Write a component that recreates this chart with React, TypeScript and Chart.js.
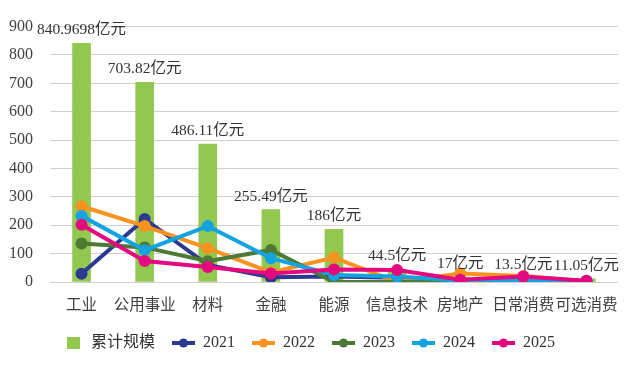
import React, { useEffect, useRef } from "react";
import { Chart, registerables } from "chart.js";
Chart.register(...registerables);

const categories = ["工业", "公用事业", "材料", "金融", "能源", "信息技术", "房地产", "日常消费", "可选消费"];
const cumulative = [840.9698, 703.82, 486.11, 255.49, 186, 44.5, 17, 13.5, 11.05];
const cumulativeLabels = ["840.9698亿元", "703.82亿元", "486.11亿元", "255.49亿元", "186亿元", "44.5亿元", "17亿元", "13.5亿元", "11.05亿元"];
const y2021 = [29, 222, 60, 17, 19, 15, 5, 4, 3];
const y2022 = [267, 197, 119, 34, 86, 0, 30, 21, 2];
const y2023 = [136, 122, 73, 113, 0, 0, 2, 1, 3];
const y2024 = [233, 112, 197, 84, 25, 19, 5, 5, 4];
const y2025 = [202, 74, 53, 30, 44, 42, 8, 19, 4];
const yTickValues = [0, 100, 200, 300, 400, 500, 600, 700, 800, 900];

const seriesNames = ["累计规模", "2021", "2022", "2023", "2024", "2025"];
const colors = {
  bar: "#92C84F",
  y2021: "#2B3990",
  y2022: "#F7931E",
  y2023: "#4C7A34",
  y2024: "#12A3E0",
  y2025: "#E5097F",
};

const FONT = "'Liberation Serif', 'Noto Sans CJK SC', serif";
const TEXT = "#404040";

const barLabelPlugin = {
  id: "barLabels",
  afterDatasetsDraw(chart: any) {
    const meta = chart.getDatasetMeta(0);
    const ctx = chart.ctx;
    ctx.save();
    ctx.font = `15.5px ${FONT}`;
    ctx.fillStyle = "#333333";
    ctx.textAlign = "center";
    ctx.textBaseline = "middle";
    meta.data.forEach((el: any, i: number) => {
      ctx.fillText(cumulativeLabels[i], el.x, el.y - 13);
    });
    ctx.restore();
  },
};

const legendPlugin = {
  id: "customLegend",
  afterDraw(chart: any) {
    const ctx = chart.ctx;
    const y = 343;
    let x = 67;
    ctx.save();
    ctx.font = `16px ${FONT}`;
    ctx.textBaseline = "middle";
    ctx.textAlign = "left";
    chart.data.datasets.forEach((ds: any) => {
      const col = ds.borderColor || ds.backgroundColor;
      if (ds.type === "bar") {
        ctx.fillStyle = ds.backgroundColor;
        ctx.fillRect(x, y - 6, 13, 12);
        x += 13 + 11;
      } else {
        ctx.strokeStyle = col;
        ctx.lineWidth = 4;
        ctx.beginPath();
        ctx.moveTo(x, y);
        ctx.lineTo(x + 23, y);
        ctx.stroke();
        ctx.fillStyle = col;
        ctx.beginPath();
        ctx.arc(x + 11.5, y, 4.5, 0, Math.PI * 2);
        ctx.fill();
        x += 23 + 8;
      }
      ctx.fillStyle = "#333333";
      const label = ds.label;
      ctx.fillText(label, x, y);
      x += ctx.measureText(label).width + 17;
    });
    ctx.restore();
  },
};

function lineDs(label: string, data: number[], color: string, order: number) {
  return {
    type: "line" as const,
    label,
    data,
    borderColor: color,
    backgroundColor: color,
    borderWidth: 4,
    pointRadius: 6,
    pointHoverRadius: 6,
    pointBackgroundColor: color,
    pointBorderColor: color,
    pointBorderWidth: 0,
    tension: 0,
    order,
  };
}

export default function App() {
  const ref = useRef<HTMLCanvasElement | null>(null);
  useEffect(() => {
    if (!ref.current) return;
    const chart = new Chart(ref.current, {
      data: {
        labels: categories,
        datasets: [
          {
            type: "bar" as const,
            label: seriesNames[0],
            data: cumulative,
            backgroundColor: colors.bar,
            barThickness: 18,
            order: 10,
          } as any,
          lineDs(seriesNames[1], y2021, colors.y2021, 5),
          lineDs(seriesNames[2], y2022, colors.y2022, 4),
          lineDs(seriesNames[3], y2023, colors.y2023, 3),
          lineDs(seriesNames[4], y2024, colors.y2024, 2),
          lineDs(seriesNames[5], y2025, colors.y2025, 1),
        ],
      },
      options: {
        animation: false,
        responsive: true,
        maintainAspectRatio: false,
        layout: { padding: { left: 0, right: 22, top: 7, bottom: 37 } },
        plugins: {
          legend: { display: false },
          tooltip: { enabled: false },
        },
        scales: {
          x: {
            grid: { display: false, drawTicks: false },
            border: { display: false },
            ticks: {
              color: TEXT,
              font: { family: FONT, size: 15.5 },
              padding: 14.2,
              maxRotation: 0,
              autoSkip: false,
            },
          },
          y: {
            min: 0,
            max: 900,
            afterFit: (s: any) => {
              s.width = 50;
            },
            afterBuildTicks: (s: any) => {
              s.ticks = yTickValues.map((v) => ({ value: v }));
            },
            grid: { color: "#D0D0D0", lineWidth: 1, drawTicks: false },
            border: { display: false },
            ticks: {
              color: TEXT,
              font: { family: FONT, size: 16 },
              padding: 17,
            },
          },
        },
      },
      plugins: [barLabelPlugin, legendPlugin],
    });
    return () => chart.destroy();
  }, []);
  return (
    <div style={{ position: "fixed", left: 0, top: 0, width: 640, height: 366, background: "#fff" }}>
      <canvas ref={ref} />
    </div>
  );
}
